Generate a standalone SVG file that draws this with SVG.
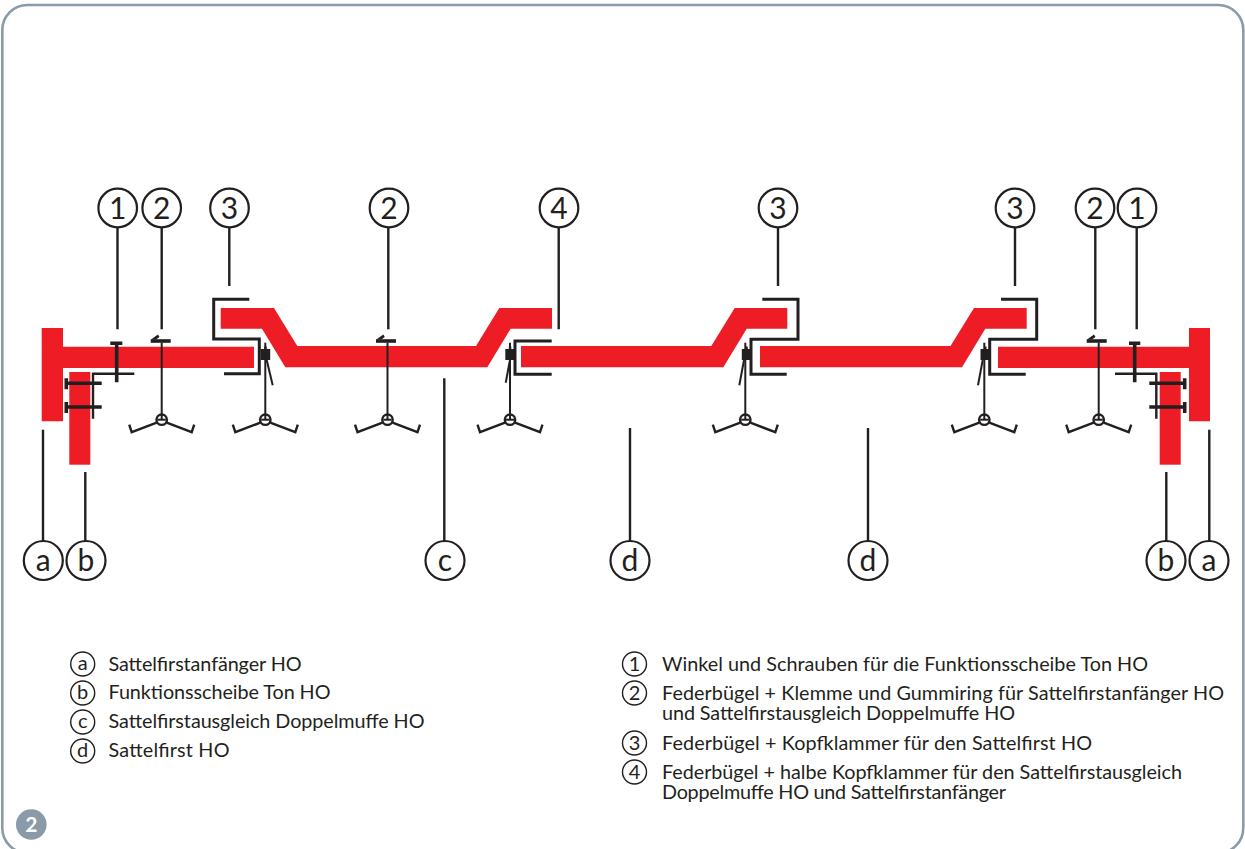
<svg xmlns="http://www.w3.org/2000/svg" width="1245" height="849" viewBox="0 0 1245 849">
<style>
text{font-family:"Lato","Noto Sans","Liberation Sans",sans-serif;fill:#231f20}
.r{fill:#ee1c25}
.k{fill:none;stroke:#231f20;stroke-width:3}
.t{fill:none;stroke:#231f20;stroke-width:2}
.th{fill:none;stroke:#231f20;stroke-width:3.600}
.l{fill:none;stroke:#231f20;stroke-width:2.400}
.b{fill:#231f20}
.c{fill:#fff;stroke:#231f20;stroke-width:2.200}
.lab{font-size:30px;text-anchor:middle}
.sc{fill:none;stroke:#231f20;stroke-width:1.400}
.sl{font-size:20px;text-anchor:middle}
.tx{font-size:19.800px}
</style>
<defs>
<g id="spring">
<path class="t" d="M0 -77V0"/>
<circle cx="0" cy="0" r="5.200" fill="none" stroke="#231f20" stroke-width="2.400"/>
<path class="l" d="M-5 3L-30 12.500L-32.500 5M5 3L30 12.500L32.500 5"/>
<path class="t" d="M-4 0H4"/>
</g>
<g id="block"><rect class="b" x="0" y="349" width="9.500" height="11"/><rect class="b" x="3.500" y="346.500" width="2.500" height="3"/></g>
<g id="clampL"><path class="th" d="M150.700 341H170.700"/><path class="b" d="M151 339.500L158 334.500L159.500 337L156 339.500Z"/></g>
</defs>
<rect x="2.300" y="5" width="1241" height="848" rx="25" fill="#fff" stroke="#8a9aa8" stroke-width="2.600"/>

<g id="parts">
<path id="part-a-left" class="r" d="M41.700 328H63V346.700H254V368H63V421.300H41.700Z"/>
<rect id="part-b-left" class="r" x="69.300" y="372" width="21" height="92.700"/>
<path id="part-c" class="r" d="M220.700 308H274L297.300 346H476L499.300 308H552V328.700H510.700L487.300 367.300H285.300L262 328.700H220.700Z"/>
<path id="part-d-1" class="r" d="M521 346H711.300L734.700 308H787.300V328.700H746.700L723.300 367.300H521Z"/>
<path id="part-d-2" class="r" d="M760 346H950.500L974 308H1026.700V328.700H985.300L962 367.300H760Z"/>
<path id="part-a-right" class="r" d="M1210 328H1189V346.700H998V368H1189V421.300H1210Z"/>
<rect id="part-b-right" class="r" x="1159.700" y="372" width="21" height="92.700"/>
</g>

<g id="hardware">
<path class="th" d="M110.300 343.300H122.300M116.700 343.300V382.300"/>
<path class="l" d="M134.300 373.700H93V418.700"/>
<path class="th" d="M65 383.300H101.700M65 407H101.700"/>
<path class="th" d="M66.300 378.300V389.300M66.300 402V413"/>
<use href="#clampL"/>
<use href="#spring" x="161.700" y="419.700"/>

<path class="k" d="M249.300 299.300H213.700V339H259.300V373.700H224"/>
<use href="#block" x="260.700"/>
<path class="t" d="M266.700 360L272.700 385.300"/>
<use href="#spring" x="265.300" y="419.700"/>

<use href="#clampL" x="225.300"/>
<use href="#spring" x="387.500" y="419.700"/>

<path class="k" d="M551.700 341H515V374.300H551.700"/>
<use href="#block" x="505.300"/>
<path class="t" d="M510 360L505.700 382.700"/>
<use href="#spring" x="510" y="419.700"/>

<path class="k" d="M762.300 299.300H798V339.300H751V374.300H786.700"/>
<use href="#block" x="741.800"/>
<path class="t" d="M744 360L739.300 385.300"/>
<use href="#spring" x="745.300" y="419.700"/>

<path class="k" d="M1001 299.300H1036.700V339.300H989.700V374.300H1025.700"/>
<use href="#block" x="980.500"/>
<path class="t" d="M982.700 360L978 385.300"/>
<use href="#spring" x="984.300" y="419.700"/>

<use href="#clampL" x="936"/>
<use href="#spring" x="1098.700" y="419.700"/>

<path class="th" d="M1129 343.300H1140.300M1134.700 343.300V382.300"/>
<path class="l" d="M1115 373.700H1156.300V418.700"/>
<path class="th" d="M1149.300 383.300H1186M1149.300 407H1186"/>
<path class="th" d="M1184.700 378.300V389.300M1184.700 402V413"/>
</g>

<g id="connectors">
<path class="l" d="M117.500 227V329.300M161.700 227V329.300M229.300 227V286M388.300 227V329.300M558.700 227V329.300M778 227V286M1015 227V286M1095.300 227V329.300M1136.700 227V329.300"/>
<path class="l" d="M43 429.700V541M85.300 472V541M444.300 378.300V541M630 428V541M868 428V541M1166.300 472V541M1209.300 429.700V541"/>
</g>

<g id="n-1a"><circle class="c" cx="117.700" cy="208" r="19.300"/><text class="lab" x="117.700" y="218.500">1</text></g>
<g id="n-2a"><circle class="c" cx="161.700" cy="208" r="19.300"/><text class="lab" x="161.700" y="218.500">2</text></g>
<g id="n-3a"><circle class="c" cx="229.500" cy="208" r="19.300"/><text class="lab" x="229.500" y="218.500">3</text></g>
<g id="n-2b"><circle class="c" cx="389" cy="208" r="19.300"/><text class="lab" x="389" y="218.500">2</text></g>
<g id="n-4"><circle class="c" cx="559" cy="208" r="19.300"/><text class="lab" x="559" y="218.500">4</text></g>
<g id="n-3b"><circle class="c" cx="778" cy="208" r="19.300"/><text class="lab" x="778" y="218.500">3</text></g>
<g id="n-3c"><circle class="c" cx="1015" cy="208" r="19.300"/><text class="lab" x="1015" y="218.500">3</text></g>
<g id="n-2c"><circle class="c" cx="1095" cy="208" r="19.300"/><text class="lab" x="1095" y="218.500">2</text></g>
<g id="n-1b"><circle class="c" cx="1137" cy="208" r="19.300"/><text class="lab" x="1137" y="218.500">1</text></g>

<g id="n-a1"><circle class="c" cx="43.300" cy="560.500" r="19.500"/><text class="lab" x="43.300" y="570.500">a</text></g>
<g id="n-b1"><circle class="c" cx="86" cy="560.500" r="19.500"/><text class="lab" x="86" y="570.500">b</text></g>
<g id="n-c"><circle class="c" cx="445" cy="560.500" r="19.500"/><text class="lab" x="445" y="570.500">c</text></g>
<g id="n-d1"><circle class="c" cx="630" cy="560.500" r="19.500"/><text class="lab" x="630" y="570.500">d</text></g>
<g id="n-d2"><circle class="c" cx="868" cy="560.500" r="19.500"/><text class="lab" x="868" y="570.500">d</text></g>
<g id="n-b2"><circle class="c" cx="1166" cy="560.500" r="19.500"/><text class="lab" x="1166" y="570.500">b</text></g>
<g id="n-a2"><circle class="c" cx="1209" cy="560.500" r="19.500"/><text class="lab" x="1209" y="570.500">a</text></g>

<g id="legend-left">
<circle class="sc" cx="82.700" cy="664" r="12"/><text class="sl" x="82.700" y="670">a</text><text class="tx" x="108.500" y="670.500" textLength="193">Sattelfirstanfänger HO</text>
<circle class="sc" cx="82.700" cy="693" r="12"/><text class="sl" x="82.700" y="699">b</text><text class="tx" x="108.500" y="699" textLength="222">Funktionsscheibe Ton HO</text>
<circle class="sc" cx="82.700" cy="722" r="12"/><text class="sl" x="82.700" y="728">c</text><text class="tx" x="108.500" y="728" textLength="316">Sattelfirstausgleich Doppelmuffe HO</text>
<circle class="sc" cx="82.700" cy="751" r="12"/><text class="sl" x="82.700" y="757">d</text><text class="tx" x="108.500" y="757" textLength="121">Sattelfirst HO</text>
</g>
<g id="legend-right">
<circle class="sc" cx="634.500" cy="664" r="12"/><text class="sl" x="634.500" y="671">1</text><text class="tx" x="662" y="670.500" textLength="486">Winkel und Schrauben für die Funktionsscheibe Ton HO</text>
<circle class="sc" cx="634.500" cy="693" r="12"/><text class="sl" x="634.500" y="700">2</text><text class="tx" x="662" y="699.500" textLength="562">Federbügel + Klemme und Gummiring für Sattelfirstanfänger HO</text><text class="tx" x="662" y="720" textLength="353">und Sattelfirstausgleich Doppelmuffe HO</text>
<circle class="sc" cx="634.500" cy="743" r="12"/><text class="sl" x="634.500" y="750">3</text><text class="tx" x="662" y="749.500" textLength="430">Federbügel + Kopfklammer für den Sattelfirst HO</text>
<circle class="sc" cx="634.500" cy="772" r="12"/><text class="sl" x="634.500" y="779">4</text><text class="tx" x="662" y="778.500" textLength="520">Federbügel + halbe Kopfklammer für den Sattelfirstausgleich</text><text class="tx" x="662" y="799" textLength="344">Doppelmuffe HO und Sattelfirstanfänger</text>
</g>
<g id="badge"><circle cx="31.300" cy="824.500" r="15.300" fill="#8a9aa8"/><text x="31.300" y="831.700" font-size="21" font-weight="700" text-anchor="middle" style="fill:#fff">2</text></g>
</svg>
